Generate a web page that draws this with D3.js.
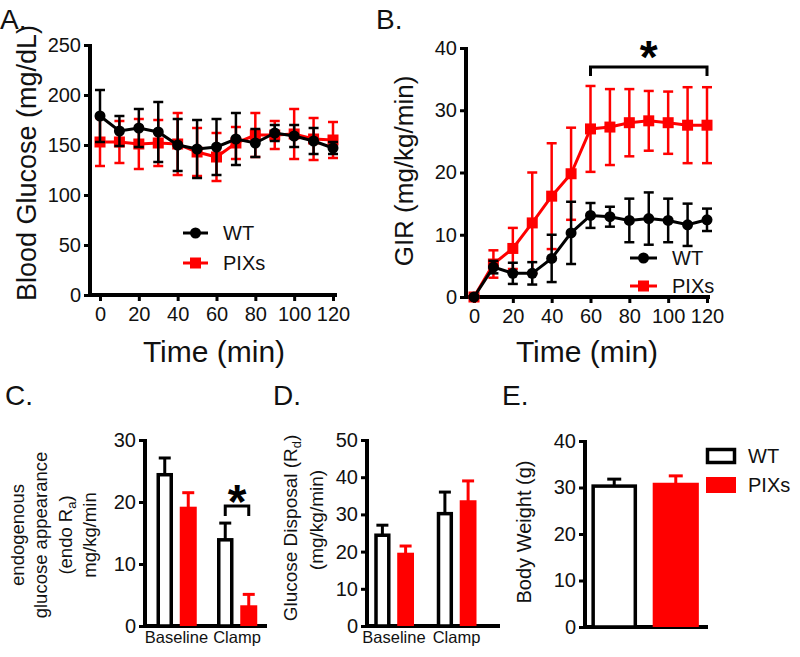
<!DOCTYPE html>
<html><head><meta charset="utf-8">
<script src="https://cdn.jsdelivr.net/npm/d3@7"></script>
<style>body{margin:0;background:#fff} svg{display:block;font-family:Arial,"Liberation Sans",sans-serif}</style>
</head><body><svg id="c" width="800" height="657"></svg>
<script>
// ---------- DATA ----------
const times = [0,10,20,30,40,50,60,70,80,90,100,110,120];
const glucoseWT     = [179,164,167,163,150,146,148,156,152,162,159,154,147];
const glucoseWTErr  = [26,15,19,30,26,29,28,26,14,8,11,13,6];
const glucosePIX    = [153,153,151,152,151,143,138,152,160,160,161,156,155];
const glucosePIXErr = [24,21,25,23,31,24,24,16,22,14,25,21,18];
const girWT     = [0,4.8,3.8,3.8,6.2,10.3,13.1,12.9,12.3,12.6,12.3,11.6,12.4];
const girWTErr  = [0,1.0,1.7,1.8,3.8,5.0,2.0,1.6,3.5,4.2,3.5,3.4,1.8];
const girPIX    = [0,5.3,7.8,11.9,16.2,19.8,27.0,27.3,28.0,28.3,28.0,27.6,27.6];
const girPIXErr = [0,2.2,3.3,8.1,8.5,7.4,6.9,6.1,5.4,4.8,5.0,6.1,6.1];
const clampCats = ["Baseline","Clamp"];
const endoRaWT = [24.4,13.9], endoRaWTErr = [2.7,2.7];
const endoRaPIX = [19.0,3.1], endoRaPIXErr = [2.5,2.0];
const rdWT = [24.4,30.2], rdWTErr = [2.7,5.8];
const rdPIX = [19.3,33.4], rdPIXErr = [2.2,5.6];
const groups = ["WT","PIXs"];
const bodyWeight = [30.3,30.7], bodyWeightErr = [1.5,1.8];
const timeTicks = [0,20,40,60,80,100,120];
const glucoseTicks = [0,50,100,150,200,250];
const girTicks = [0,10,20,30,40];
const endoTicks = [0,10,20,30];
const rdTicks = [0,10,20,30,40,50];
const bwTicks = [0,10,20,30,40];

const RED = "#ff0000", BLACK = "#000";
const svg = d3.select("#c");

function yAxis(g, y, ticks, x0, fs){
  const ax = d3.axisLeft(y).tickValues(ticks).tickSize(6).tickPadding(3).tickSizeOuter(0);
  const a = g.append("g").attr("transform",`translate(${x0},0)`).call(ax);
  a.select(".domain").remove();
  a.selectAll(".tick line").attr("stroke",BLACK).attr("stroke-width",3);
  a.selectAll(".tick text").attr("font-size",fs).attr("fill","#111").attr("font-family","Arial, Liberation Sans");
  g.append("line").attr("x1",x0).attr("x2",x0).attr("y1",y(0)+2).attr("y2",y(ticks[ticks.length-1])-1)
   .attr("stroke",BLACK).attr("stroke-width",4);
}
function xAxisLine(g, yPos, x1, x2){
  g.append("line").attr("x1",x1).attr("x2",x2).attr("y1",yPos).attr("y2",yPos).attr("stroke",BLACK).attr("stroke-width",4);
}
function label(txt,x,y,fs){
  svg.append("text").attr("x",x).attr("y",y).attr("font-size",fs).attr("fill","#111").text(txt);
}

function linePanel(o){
  const g = svg.append("g");
  const x = d3.scaleLinear().domain([0,120]).range(o.xr);
  const y = d3.scaleLinear().domain(o.yd).range(o.yr);
  yAxis(g, y, o.yTicks, o.axisX, 20);
  const xa = g.append("g").attr("transform",`translate(0,${y(0)})`)
    .call(d3.axisBottom(x).tickValues(timeTicks).tickSize(6).tickPadding(6).tickSizeOuter(0));
  xa.select(".domain").remove();
  xa.selectAll(".tick line").attr("stroke",BLACK).attr("stroke-width",3);
  xa.selectAll(".tick text").attr("font-size",20).attr("fill","#111").attr("font-family","Arial, Liberation Sans");
  xAxisLine(g, y(0), o.axisX-2, o.axisXEnd);
  const series = [
    {v:o.pix, e:o.pixErr, c:RED, shape:"sq"},
    {v:o.wt, e:o.wtErr, c:BLACK, shape:"ci"}
  ];
  series.forEach(s=>{
    const pts = times.map((t,i)=>({t, v:s.v[i], e:s.e[i]}));
    const eb = g.append("g").attr("stroke",s.c).attr("stroke-width",2.5);
    pts.filter(p=>p.e>0).forEach(p=>{
      const cx=x(p.t), y1=y(p.v+p.e), y2=y(p.v-p.e);
      eb.append("line").attr("x1",cx).attr("x2",cx).attr("y1",y1).attr("y2",y2);
      eb.append("line").attr("x1",cx-5).attr("x2",cx+5).attr("y1",y1).attr("y2",y1);
      eb.append("line").attr("x1",cx-5).attr("x2",cx+5).attr("y1",y2).attr("y2",y2);
    });
    g.append("path").datum(pts).attr("fill","none").attr("stroke",s.c).attr("stroke-width",3)
      .attr("d",d3.line().x(p=>x(p.t)).y(p=>y(p.v)));
    pts.forEach(p=>{
      if(s.shape==="sq") g.append("rect").attr("x",x(p.t)-5.5).attr("y",y(p.v)-5.5).attr("width",11).attr("height",11).attr("fill",s.c);
      else g.append("circle").attr("cx",x(p.t)).attr("cy",y(p.v)).attr("r",5.5).attr("fill",s.c);
    });
  });
  // legend
  o.legend.forEach((L,i)=>{
    const ly = L.y;
    g.append("line").attr("x1",L.x1).attr("x2",L.x2).attr("y1",ly).attr("y2",ly).attr("stroke",L.c).attr("stroke-width",3);
    const mx=(L.x1+L.x2)/2;
    if(L.shape==="sq") g.append("rect").attr("x",mx-5.5).attr("y",ly-5.5).attr("width",11).attr("height",11).attr("fill",L.c);
    else g.append("circle").attr("cx",mx).attr("cy",ly).attr("r",5.5).attr("fill",L.c);
    g.append("text").attr("x",L.tx).attr("y",ly).attr("dy","0.36em").attr("font-size",20).attr("fill","#111").text(L.name);
  });
  return {g,x,y};
}

// Panel A
label("A.",0,29,28);
linePanel({xr:[100,333], yd:[0,250], yr:[295,45], yTicks:glucoseTicks, axisX:90, axisXEnd:337,
  wt:glucoseWT, wtErr:glucoseWTErr, pix:glucosePIX, pixErr:glucosePIXErr,
  legend:[{name:"WT",c:BLACK,shape:"ci",x1:183,x2:208,tx:223,y:233},{name:"PIXs",c:RED,shape:"sq",x1:183,x2:208,tx:223,y:263}]});
svg.append("text").attr("transform","translate(36,163) rotate(-90)").attr("text-anchor","middle")
  .attr("font-size",27).attr("fill","#111").text("Blood Glucose (mg/dL)");
svg.append("text").attr("x",214).attr("y",362).attr("text-anchor","middle").attr("font-size",30).attr("fill","#111").text("Time (min)");

// Panel B
label("B.",376,29,28);
const B = linePanel({xr:[474,707], yd:[0,40], yr:[297,48], yTicks:girTicks, axisX:466, axisXEnd:710,
  wt:girWT, wtErr:girWTErr, pix:girPIX, pixErr:girPIXErr,
  legend:[{name:"WT",c:BLACK,shape:"ci",x1:630,x2:657,tx:672,y:258},{name:"PIXs",c:RED,shape:"sq",x1:630,x2:657,tx:672,y:286}]});
svg.append("text").attr("transform","translate(413,171) rotate(-90)").attr("text-anchor","middle")
  .attr("font-size",26).attr("fill","#111").text("GIR (mg/kg/min)");
svg.append("text").attr("x",587).attr("y",362).attr("text-anchor","middle").attr("font-size",30).attr("fill","#111").text("Time (min)");
{
  const bx1=B.x(60), bx2=B.x(120), by=67;
  B.g.append("path").attr("d",`M${bx1},${by+9}V${by}H${bx2}V${by+9}`).attr("fill","none").attr("stroke",BLACK).attr("stroke-width",3);
  B.g.append("text").attr("x",(bx1+bx2)/2).attr("y",73).attr("text-anchor","middle").attr("font-size",46).attr("font-weight","bold").text("*");
}

// Bar panels
function barPanel(o){
  const g = svg.append("g");
  const y = d3.scaleLinear().domain(o.yd).range([626,440]);
  yAxis(g, y, o.yTicks, o.axisX, 20);
  xAxisLine(g, y(0), o.axisX-2, o.axisXEnd);
  const x0 = d3.scalePoint().domain(o.cats).range(o.centers);
  const x1 = d3.scaleBand().domain(o.series.map(s=>s.name)).range([-o.half,o.half]).paddingInner(o.pad);
  o.series.forEach(s=>{
    o.cats.forEach((c,i)=>{
      const bx = x0(c)+x1(s.name), bw=x1.bandwidth(), v=s.v[i], e=s.e[i];
      const cx = bx+bw/2;
      g.append("line").attr("x1",cx).attr("x2",cx).attr("y1",y(v)).attr("y2",y(v+e)).attr("stroke",s.c).attr("stroke-width",3);
      g.append("line").attr("x1",cx-6).attr("x2",cx+6).attr("y1",y(v+e)).attr("y2",y(v+e)).attr("stroke",s.c).attr("stroke-width",3);
      if(s.outline) g.append("rect").attr("x",bx+2).attr("y",y(v)).attr("width",bw-4).attr("height",y(0)-y(v)).attr("fill","#fff").attr("stroke",BLACK).attr("stroke-width",3.5);
      else g.append("rect").attr("x",bx).attr("y",y(v)-1.5).attr("width",bw).attr("height",y(0)-y(v)+1.5).attr("fill",s.c);
    });
  });
  if(o.showCats) o.cats.forEach(c=>{
    g.append("text").attr("x",x0(c)).attr("y",643).attr("text-anchor","middle").attr("font-size",16.5).attr("fill","#111").text(c);
  });
  return {g,x0,x1,y};
}

// Panel C
label("C.",5,405,28);
const C = barPanel({yd:[0,30], yTicks:endoTicks, axisX:145, axisXEnd:267, cats:clampCats, centers:[176.5,237], half:20.25, pad:0.277, showCats:true,
  series:[{name:"WT",v:endoRaWT,e:endoRaWTErr,c:BLACK,outline:true},{name:"PIXs",v:endoRaPIX,e:endoRaPIXErr,c:RED}]});
{
  const bw=C.x1.bandwidth();
  const a=C.x0("Clamp")+C.x1("WT")+bw/2, b=C.x0("Clamp")+C.x1("PIXs")+bw/2, by=506;
  C.g.append("path").attr("d",`M${a},${by+10}V${by}H${b}V${by+10}`).attr("fill","none").attr("stroke",BLACK).attr("stroke-width",3);
  C.g.append("text").attr("x",(a+b)/2).attr("y",518).attr("text-anchor","middle").attr("font-size",48).attr("font-weight","bold").text("*");
}
{
  const t = svg.append("text").attr("transform","translate(0,535) rotate(-90)").attr("text-anchor","middle").attr("font-size",18.5).attr("fill","#111");
  t.append("tspan").attr("x",0).attr("y",24).text("endogenous");
  t.append("tspan").attr("x",0).attr("y",47).text("glucose appearance");
  t.append("tspan").attr("x",0).attr("y",72).text("(endo R");
  t.append("tspan").attr("font-size",13).attr("dy",4).text("a");
  t.append("tspan").attr("dy",-4).text(")");
  t.append("tspan").attr("x",0).attr("y",96).text("mg/kg/min");
}

// Panel D
label("D.",273,405,28);
barPanel({yd:[0,50], yTicks:rdTicks, axisX:367, axisXEnd:500, cats:clampCats, centers:[394,456.5], half:20, pad:0.277, showCats:true,
  series:[{name:"WT",v:rdWT,e:rdWTErr,c:BLACK,outline:true},{name:"PIXs",v:rdPIX,e:rdPIXErr,c:RED}]});
{
  const t = svg.append("text").attr("transform","translate(0,528) rotate(-90)").attr("text-anchor","middle").attr("font-size",19).attr("fill","#111");
  t.append("tspan").attr("x",0).attr("y",297).text("Glucose Disposal (R");
  t.append("tspan").attr("font-size",13).attr("dy",4).text("d");
  t.append("tspan").attr("dy",-4).text(")");
  t.append("tspan").attr("x",8).attr("y",323).text("(mg/kg/min)");
}

// Panel E
label("E.",502,405,28);
{
  const g = svg.append("g");
  const y = d3.scaleLinear().domain([0,40]).range([627,441]);
  yAxis(g, y, bwTicks, 585, 20);
  xAxisLine(g, y(0), 583, 708);
  const x = d3.scaleBand().domain(groups).range([585,705]).paddingInner(0.25).paddingOuter(0.1);
  groups.forEach((gr,i)=>{
    const bx=x(gr), bw=x.bandwidth(), v=bodyWeight[i], e=bodyWeightErr[i], cx=bx+bw/2;
    const c = i===0?BLACK:RED;
    g.append("line").attr("x1",cx).attr("x2",cx).attr("y1",y(v)).attr("y2",y(v+e)).attr("stroke",c).attr("stroke-width",3);
    g.append("line").attr("x1",cx-7).attr("x2",cx+7).attr("y1",y(v+e)).attr("y2",y(v+e)).attr("stroke",c).attr("stroke-width",3);
    if(i===0) g.append("rect").attr("x",bx+2).attr("y",y(v)).attr("width",bw-4).attr("height",y(0)-y(v)).attr("fill","#fff").attr("stroke",BLACK).attr("stroke-width",3.5);
    else g.append("rect").attr("x",bx).attr("y",y(v)-1.5).attr("width",bw).attr("height",y(0)-y(v)+1.5).attr("fill",RED);
  });
  // legend
  g.append("rect").attr("x",707.5).attr("y",449.5).attr("width",27).attr("height",13).attr("fill","#fff").attr("stroke",BLACK).attr("stroke-width",3.5);
  g.append("rect").attr("x",706).attr("y",477).attr("width",30).attr("height",16).attr("fill",RED);
  g.append("text").attr("x",748).attr("y",456).attr("dy","0.36em").attr("font-size",20).attr("fill","#111").text(groups[0]);
  g.append("text").attr("x",748).attr("y",485).attr("dy","0.36em").attr("font-size",20).attr("fill","#111").text(groups[1]);
  svg.append("text").attr("transform","translate(531,532) rotate(-90)").attr("text-anchor","middle").attr("font-size",20).attr("fill","#111").text("Body Weight (g)");
}
</script></body></html>
